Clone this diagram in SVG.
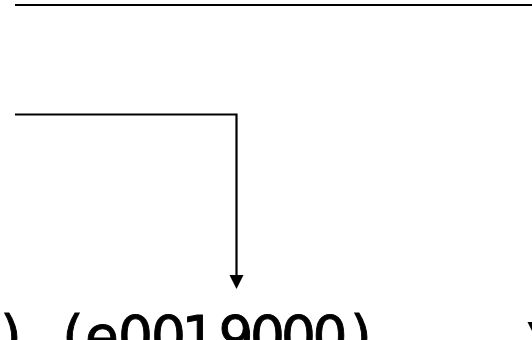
<svg xmlns="http://www.w3.org/2000/svg" width="532" height="340" viewBox="0 0 532 340">
  <style>
    .wire { fill: none; stroke: #000; stroke-width: 2.2; }
    .head { fill: #000; }
    .label { font-family: "DejaVu Sans", "Noto Sans", sans-serif; font-size: 55px; fill: #000; stroke: #000; stroke-width: 0.9; text-anchor: middle; }
  </style>
  <rect width="532" height="340" fill="#fff"/>
  <g id="connectors">
    <path class="wire" d="M15,5 H534.5 V322"/>
    <polygon class="head" points="527.5,322 541.5,322 534.5,336"/>
    <path class="wire" d="M15,114.5 H236.5 V275"/>
    <polygon class="head" points="229.5,275 243.5,275 236.5,289"/>
  </g>
  <g id="node-e0019000">
    <!-- fixed-pitch placement, one x per character -->
    <text class="label" x="11 42 73 102 135.5 168.5 199 236 267.5 298.5 330 361" y="355">) (e0019000)</text>
  </g>
</svg>
